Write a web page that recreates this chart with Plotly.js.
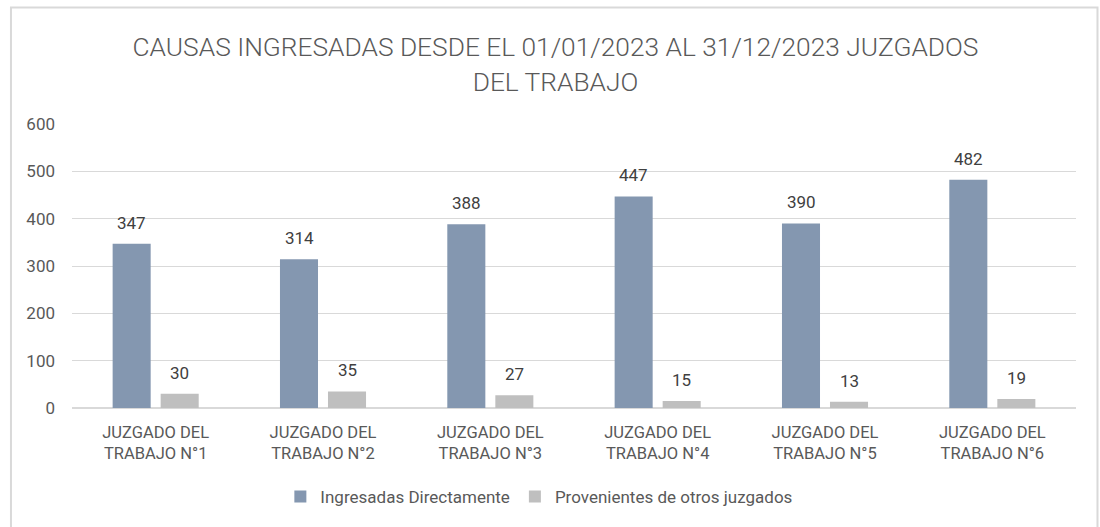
<!DOCTYPE html>
<html>
<head>
<meta charset="utf-8">
<script src="https://cdn.plot.ly/plotly-3.0.1.min.js"></script>
<style>html,body{margin:0;padding:0;background:#fff;}#chart{width:1100px;height:527px;}</style>
</head>
<body>
<div id="chart"></div>
<script>
const categories = ["JUZGADO DEL<br>TRABAJO N°1","JUZGADO DEL<br>TRABAJO N°2","JUZGADO DEL<br>TRABAJO N°3","JUZGADO DEL<br>TRABAJO N°4","JUZGADO DEL<br>TRABAJO N°5","JUZGADO DEL<br>TRABAJO N°6"];
const ingresadas = [347, 314, 388, 447, 390, 482];
const provenientes = [30, 35, 27, 15, 13, 19];
const seriesNames = ["Ingresadas Directamente", "Provenientes de otros juzgados"];
const yTicks = [0, 100, 200, 300, 400, 500, 600];
const titleText = "CAUSAS INGRESADAS DESDE EL 01/01/2023 AL 31/12/2023 JUZGADOS<br>DEL TRABAJO";

const textColor = "#595959";
const labelFont = {family: "Roboto, 'Liberation Sans', sans-serif", size: 17, color: "#404040"};

const traces = [
  {type: "bar", name: seriesNames[0], x: categories, y: ingresadas, marker: {color: "#8497B0"}, hoverinfo: "y"},
  {type: "bar", name: seriesNames[1], x: categories, y: provenientes, marker: {color: "#BFBFBF"}, hoverinfo: "y"}
];

const annotations = [];
categories.forEach((c, i) => {
  annotations.push({x: c, y: ingresadas[i], text: String(ingresadas[i]), showarrow: false, xshift: -24, yshift: 21, yanchor: "middle", font: labelFont});
  annotations.push({x: c, y: provenientes[i], text: String(provenientes[i]), showarrow: false, xshift: 24, yshift: 21, yanchor: "middle", font: labelFont});
});

const layout = {
  width: 1100, height: 527,
  margin: {l: 72, r: 24, t: 124, b: 119},
  paper_bgcolor: "#ffffff", plot_bgcolor: "#ffffff",
  title: {text: titleText, x: 0.505, xanchor: "center", y: 0.893, yanchor: "middle",
    font: {family: "Roboto, sans-serif", size: 26.3, weight: 300, color: textColor}},
  barmode: "group", bargap: 0.426, bargroupgap: 0.208,
  xaxis: {tickfont: {family: "Roboto, sans-serif", size: 16.5, color: textColor}, showline: false, ticks: "", ticklabelstandoff: 12, fixedrange: true},
  yaxis: {range: [0, 600], tickvals: yTicks, ticktext: yTicks.map(String), showgrid: true, gridcolor: "#d9d9d9", gridwidth: 1,
    zeroline: true, zerolinecolor: "#d9d9d9", zerolinewidth: 1.5, showline: false, ticks: "", ticklen: 0, ticklabelstandoff: 16,
    tickfont: {family: "Roboto, sans-serif", size: 17, color: textColor}, fixedrange: true},
  showlegend: true,
  legend: {orientation: "h", x: 0.465, xanchor: "center", y: -0.313, yanchor: "middle",
    font: {family: "Roboto, sans-serif", size: 17, color: textColor}, itemwidth: 30, traceorder: "normal"},
  annotations: annotations,
  shapes: [{type: "rect", xref: "paper", yref: "paper", x0: -0.0608, x1: 1.0214, y0: -0.5, y1: 1.41,
    line: {color: "#d9d9d9", width: 2}, fillcolor: "rgba(0,0,0,0)", layer: "below"}]
};

Plotly.newPlot("chart", traces, layout, {displayModeBar: false, staticPlot: true});
</script>
</body>
</html>
